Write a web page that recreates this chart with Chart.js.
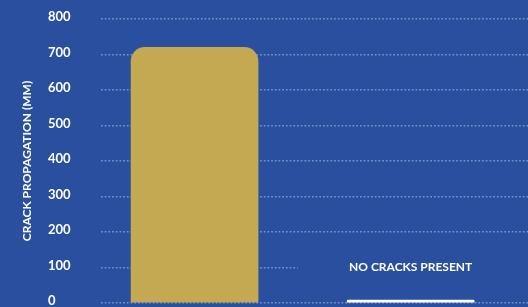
<!DOCTYPE html>
<html>
<head>
<meta charset="utf-8">
<script src="https://cdn.jsdelivr.net/npm/chart.js@4"></script>
<style>
  html, body { margin: 0; padding: 0; background: #2b4f9f; overflow: hidden; }
  canvas { display: block; }
</style>
</head>
<body>
<canvas id="crackChart" width="528" height="307"></canvas>
<script>
const categories = ["Sample A", "Sample B"];
const crackValues = [720, 0];
const barNotes = ["", "NO CRACKS PRESENT"];
const yTicks = [0, 100, 200, 300, 400, 500, 600, 700, 800];

const BG = "#2b4f9f";
const GOLD = "#c4a852";

// draws the "no cracks" note over the 100 gridline
const notePlugin = {
  id: "barNotes",
  afterDatasetsDraw(chart) {
    const { ctx, scales } = chart;
    ctx.save();
    ctx.font = "bold 12px Lato";
    ctx.textAlign = "center";
    ctx.textBaseline = "middle";
    barNotes.forEach((note, i) => {
      if (!note) return;
      const x = scales.x.getPixelForValue(i);
      const y = scales.y.getPixelForValue(100);
      ctx.fillStyle = BG;
      ctx.fillRect(x - 113, y - 8, 240, 16);
      ctx.fillStyle = "#ffffff";
      ctx.fillText(note, x, y);
    });
    ctx.restore();
  },
};

new Chart(document.getElementById("crackChart").getContext("2d"), {
  type: "bar",
  data: {
    datasets: [
      {
        data: crackValues.map((v, i) => ({ x: i, y: v, label: categories[i] })),
        backgroundColor: [GOLD, "#ffffff"],
        borderWidth: 0,
        borderRadius: { topLeft: 14, topRight: 14 },
        borderSkipped: "start",
        barThickness: 127,
        minBarLength: 3,
        clip: false,
      },
    ],
  },
  options: {
    responsive: false,
    devicePixelRatio: 1,
    animation: false,
    layout: { padding: { top: 19, right: 0, bottom: 4, left: 48 } },
    plugins: { legend: { display: false }, tooltip: { enabled: false } },
    scales: {
      x: {
        type: "linear",
        display: false,
        offset: false,
        min: -0.433,
        max: 1.543,
      },
      y: {
        min: 0,
        max: 800,
        afterBuildTicks: (scale) => {
          scale.ticks = yTicks.map((v) => ({ value: v }));
        },
        afterFit: (scale) => {
          scale.width = 53;
          scale.paddingTop = 0;
          scale.paddingBottom = 0;
        },
        border: { display: false, dash: [1.7, 2] },
        grid: {
          color: "#7594ce",
          lineWidth: 1.6,
          drawTicks: false,
        },
        ticks: {
          color: "#ffffff",
          crossAlign: "far",
          padding: 0,
          labelOffset: -2,
          font: { family: "Lato", weight: "bold", size: 13 },
        },
        title: {
          display: true,
          text: "CRACK PROPAGATION (MM)",
          color: "#ffffff",
          font: { family: "Lato", weight: "bold", size: 12 },
          padding: { top: -28, bottom: 0 },
        },
      },
    },
  },
  plugins: [notePlugin],
});
</script>
</body>
</html>
